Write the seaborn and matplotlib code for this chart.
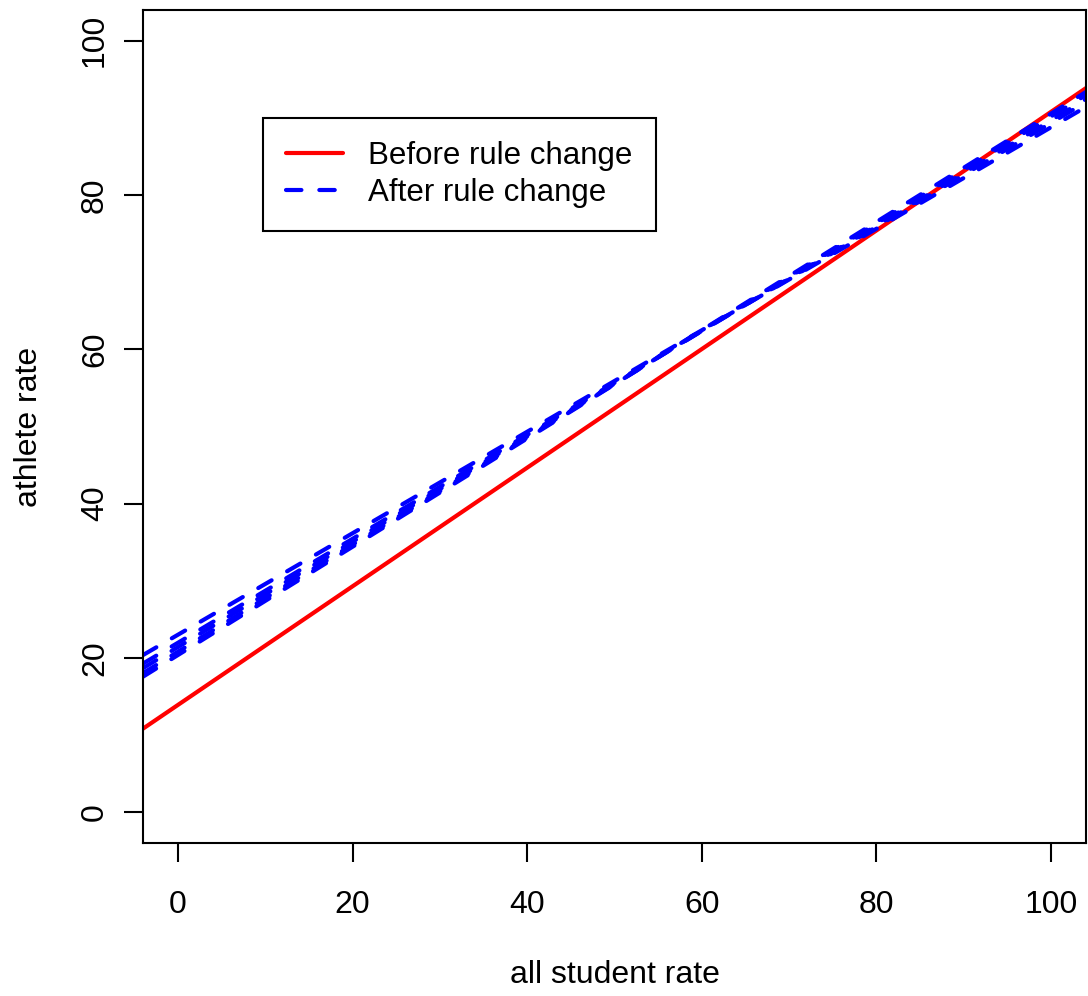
import numpy as np
import pandas as pd
import matplotlib
matplotlib.use("Agg")
import matplotlib.pyplot as plt
from matplotlib.lines import Line2D
import seaborn as sns

# ---- data ----
x_range = [-4, 104]
before_intercept = [13.9]
before_slope = [0.769]
after_intercepts = [23.0, 21.96, 21.4, 20.8, 20.37]
after_slopes = [0.658, 0.674, 0.683, 0.694, 0.702]
x_ticks = [0, 20, 40, 60, 80, 100]
y_ticks = [0, 20, 40, 60, 80, 100]
legend_labels = ["Before rule change", "After rule change"]

rows = []
for i, (b, m) in enumerate(zip(before_intercept, before_slope)):
    for xv in x_range:
        rows.append({"x": xv, "y": b + m * xv, "line": f"b{i}", "period": "before"})
for i, (b, m) in enumerate(zip(after_intercepts, after_slopes)):
    for xv in x_range:
        rows.append({"x": xv, "y": b + m * xv, "line": f"a{i}", "period": "after"})
df = pd.DataFrame(rows)

sns.set_style("ticks")
plt.rcParams["font.family"] = ["Liberation Sans", "DejaVu Sans"]
plt.rcParams["text.color"] = "black"
plt.rcParams["axes.labelcolor"] = "black"
plt.rcParams["xtick.color"] = "black"
plt.rcParams["ytick.color"] = "black"

W, H = 1088, 996
fig = plt.figure(figsize=(W / 100, H / 100), dpi=100)
ax = fig.add_axes([143 / W, 1 - 843 / H, (1086 - 143) / W, (843 - 10) / H])

lw = 3.0
dash = (3.7, 4.3)
sns.lineplot(data=df[df.period == "before"], x="x", y="y", units="line",
             estimator=None, color="#ff0000", lw=lw, ax=ax,
             solid_capstyle="round", legend=False)
sns.lineplot(data=df[df.period == "after"], x="x", y="y", units="line",
             estimator=None, color="#0000ff", lw=lw, ax=ax,
             legend=False)
for ln in ax.lines[1:]:
    ln.set_dashes(dash)
    ln.set_dash_capstyle("round")

ax.set_xlim(-4, 104)
ax.set_ylim(-4, 104)
ax.set_xticks(x_ticks)
ax.set_yticks(y_ticks)
ax.set_xticklabels([str(v) for v in x_ticks])
ax.set_yticklabels([str(v) for v in y_ticks], rotation=90, va="center")

for s in ax.spines.values():
    s.set_visible(True)
    s.set_linewidth(1.5)
    s.set_color("black")

fs = 23
ax.tick_params(axis="both", direction="out", length=13.7, width=1.5,
               colors="black", labelsize=fs)
ax.tick_params(axis="x", pad=20)
ax.tick_params(axis="y", pad=10)

ax.set_xlabel("all student rate", fontsize=fs, labelpad=29)
ax.set_ylabel("athlete rate", fontsize=fs, labelpad=26)

handles = [
    Line2D([0], [0], color="#ff0000", lw=lw, solid_capstyle="round"),
    Line2D([0], [0], color="#0000ff", lw=lw, dashes=dash, dash_capstyle="round"),
]
leg = ax.legend(handles, legend_labels, loc="upper left",
                bbox_to_anchor=(263 / W, 1 - 118 / H), bbox_transform=fig.transFigure,
                fontsize=22.5, frameon=True, fancybox=False, framealpha=1,
                edgecolor="black", handlelength=1.8, handletextpad=0.8,
                borderpad=0.75, labelspacing=0.2, borderaxespad=0)
leg.get_frame().set_linewidth(1.5)

fig.savefig("out.png", dpi=100, facecolor="white")
